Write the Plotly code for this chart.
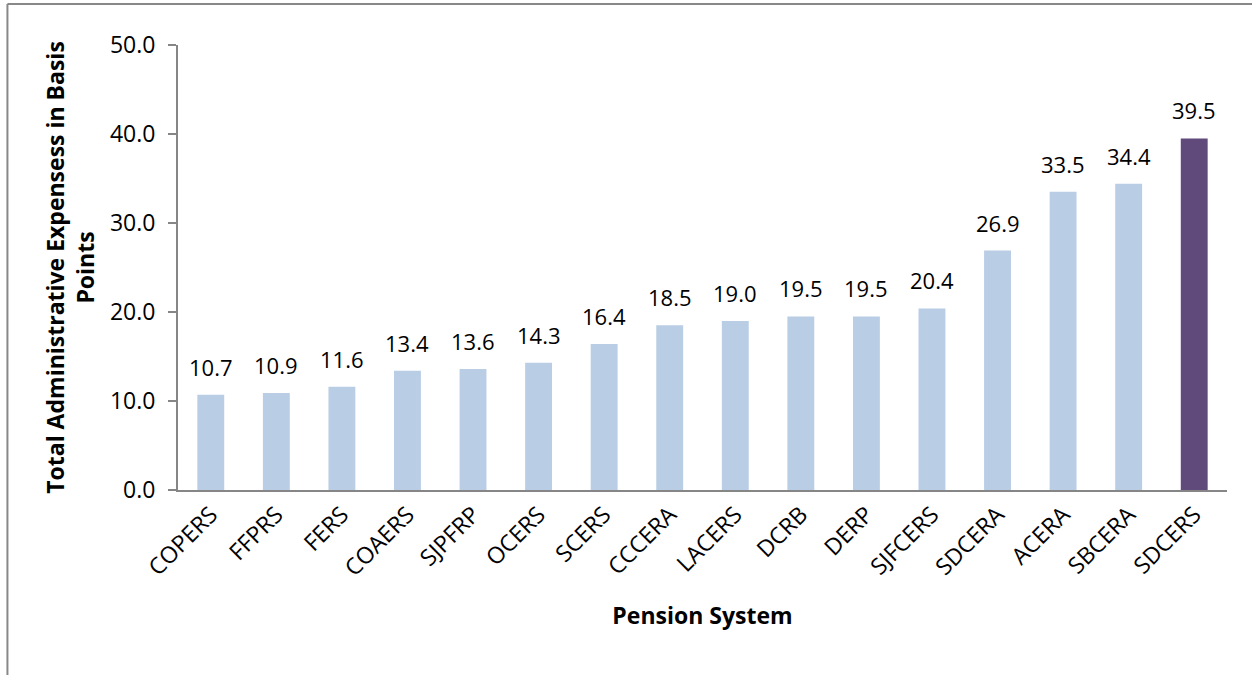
import plotly.graph_objects as go

systems = ["COPERS", "FFPRS", "FERS", "COAERS", "SJPFRP", "OCERS", "SCERS", "CCCERA",
           "LACERS", "DCRB", "DERP", "SJFCERS", "SDCERA", "ACERA", "SBCERA", "SDCERS"]
expenses_bp = [10.7, 10.9, 11.6, 13.4, 13.6, 14.3, 16.4, 18.5,
               19.0, 19.5, 19.5, 20.4, 26.9, 33.5, 34.4, 39.5]
highlight = "SDCERS"

base_color = "#B9CDE5"
hi_color = "#604A7B"
colors = [hi_color if s == highlight else base_color for s in systems]

FONT = "Open Sans"

fig = go.Figure()
fig.add_trace(go.Bar(
    x=systems, y=expenses_bp, marker=dict(color=colors, line=dict(width=0)),
    showlegend=False, hoverinfo="x+y",
))

for s, v in zip(systems, expenses_bp):
    fig.add_annotation(x=s, y=v, text=f"{v:.1f}", showarrow=False,
                       yanchor="bottom", yshift=11,
                       font=dict(family=FONT, size=22, color="#000000"))

fig.update_layout(
    width=1252, height=675,
    paper_bgcolor="white", plot_bgcolor="white",
    margin=dict(l=178, r=25, t=45, b=185),
    bargap=0.59,
    font=dict(family=FONT, size=22, color="#000000"),
    xaxis=dict(
        tickangle=-45, tickfont=dict(family=FONT, size=23),
        showline=True, linecolor="#868686", linewidth=2,
        ticks="", showgrid=False,
        title=dict(text="<b>Pension System</b>", font=dict(family=FONT, size=23), standoff=27),
    ),
    yaxis=dict(
        range=[0, 50], dtick=10, tickformat=".1f",
        showline=True, linecolor="#868686", linewidth=2,
        ticks="outside", ticklen=8, tickcolor="#868686", tickwidth=2,
        ticklabelstandoff=8,
        showgrid=False, zeroline=False,
        tickfont=dict(family=FONT, size=23),
        title=dict(text="<b>Total Administrative Expensess in Basis<br>Points</b>",
                   font=dict(family=FONT, size=23), standoff=9),
    ),
    shapes=[
        dict(type="line", xref="paper", yref="paper", x0=-0.1626, x1=1.05, y0=1.0924, y1=1.0924,
             line=dict(color="#888888", width=2)),
        dict(type="line", xref="paper", yref="paper", x0=-0.1626, x1=-0.1626, y0=1.0924, y1=-0.45,
             line=dict(color="#888888", width=2)),
    ],
)

fig.write_html("out.html", config={"displayModeBar": False},
               post_script="document.body.style.margin='0';")
